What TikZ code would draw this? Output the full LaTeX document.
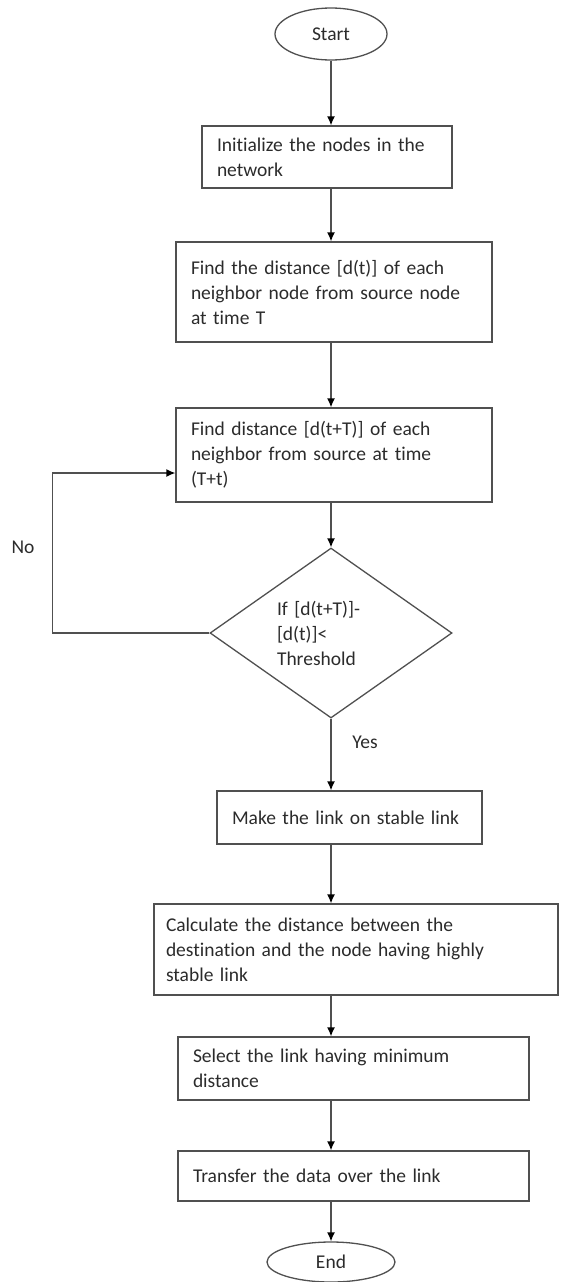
\documentclass[tikz,border=0pt]{standalone}
\usepackage{fontspec}
\setmainfont{Carlito}[Ligatures={NoCommon}]
\usetikzlibrary{shapes.geometric,arrows.meta}
\definecolor{lc}{HTML}{505050}
\definecolor{tc}{HTML}{2B2B2B}
\begin{document}
\begin{tikzpicture}[x=1pt,y=-1pt,
  font=\fontsize{19.5}{25}\selectfont, text=tc,
  box/.style={draw=lc, line width=1.3pt, rectangle, inner xsep=15pt, inner ysep=0pt, align=left},
  term/.style={draw=lc, line width=1.3pt, ellipse, inner sep=0pt},
  decision/.style={draw=lc, line width=1.3pt, diamond, aspect=1.42, inner sep=0pt, align=left},
  arr/.style={draw=lc, line width=1.3pt, -{Latex[length=9pt,width=8pt,color=black]}},
  lbl/.style={inner sep=0pt}]
\useasboundingbox (0,0) rectangle (566,1282);
\node[term, minimum width=112pt, minimum height=52pt] (start) at (331,34) {Start};
\node[box, text width=220pt, minimum height=62pt] (init) at (327,157) {Initialize the nodes in the\\network};
\node[box, text width=286pt, minimum height=100pt] (find1) at (334,292) {Find the distance [d(t)] of each\\neighbor node from source node\\at time T};
\node[box, text width=286pt, minimum height=94pt] (find2) at (334,455) {Find distance [d(t+T)] of each\\neighbor from source at time\\(T+t)};
\node[decision, minimum width=242pt, minimum height=170pt, text width=108pt] (dec) at (331,633) {If [d(t+T)]-\\{}[d(t)]<\\Threshold};
\node[box, text width=235pt, minimum height=53pt] (make) at (349.5,817.5) {Make the link on stable link};
\node[box, inner xsep=12pt, text width=380pt, minimum height=91pt] (calc) at (356,949.5) {Calculate the distance between the\\destination and the node having highly\\stable link};
\node[box, text width=321pt, minimum height=63pt] (sel) at (353.5,1068.5) {Select the link having minimum\\distance};
\node[box, text width=321pt, minimum height=50pt] (xfer) at (353.5,1176) {Transfer the data over the link};
\node[term, minimum width=128pt, minimum height=40pt] (end) at (331,1262) {End};
\node[lbl] (yes) at (365,742) {Yes};
\node[lbl] (no) at (23,547) {No};
\draw[arr] (start.south) -- (init.north -| start.south);
\draw[arr] (init.south -| start) -- (find1.north -| start);
\draw[arr] (find1.south -| start) -- (find2.north -| start);
\draw[arr] (find2.south -| start) -- (dec.north);
\draw[arr] (dec.south) -- (make.north -| dec);
\draw[arr] (make.south -| start) -- (calc.north -| start);
\draw[arr] (calc.south -| start) -- (sel.north -| start);
\draw[arr] (sel.south -| start) -- (xfer.north -| start);
\draw[arr] (xfer.south -| start) -- (end.north);
\draw[arr] (dec.west) -- ++(-157,0) |- ([yshift=-18pt]find2.west);
\end{tikzpicture}
\end{document}
